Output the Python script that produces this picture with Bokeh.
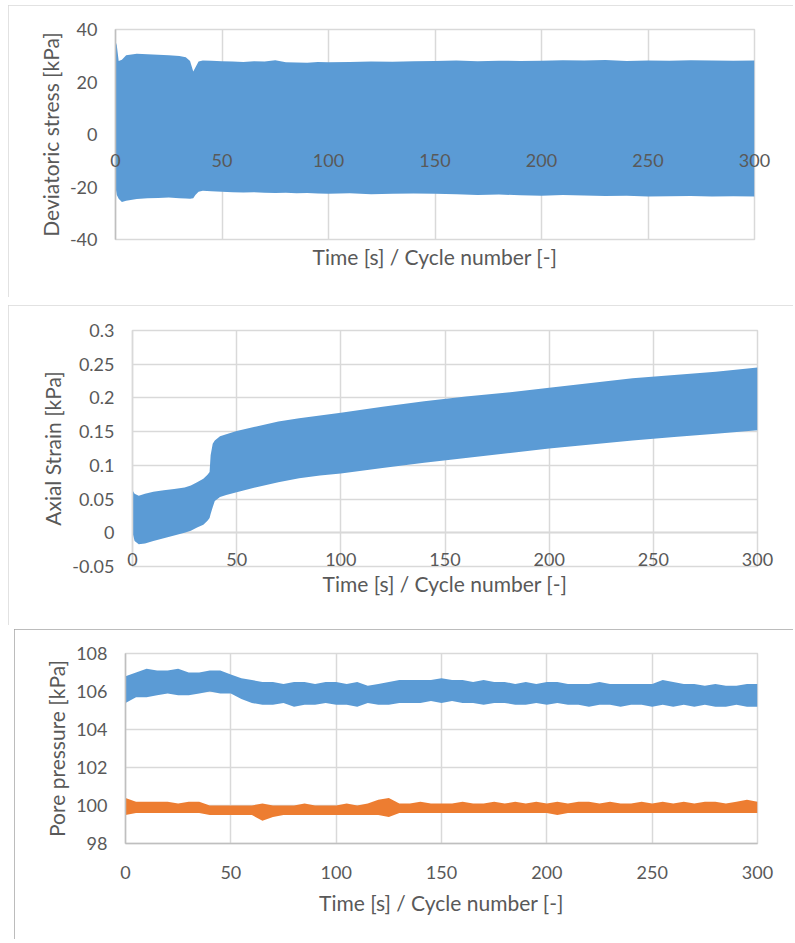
from bokeh.plotting import figure
from bokeh.models import Range1d, FixedTicker, Title
from bokeh.embed import file_html
from bokeh.resources import INLINE

FONT = "Lato"
TXT = "#595959"
GRID = "#d9d9d9"
AXIS = "#bfbfbf"
BLUE = "#5B9BD5"
ORANGE = "#ED7D31"
TICK_SIZE = "18px"
TITLE_SIZE = "21px"

# ---- shared x axis ----
x_ticks = [0, 50, 100, 150, 200, 250, 300]
x_tick_labels = ["0", "50", "100", "150", "200", "250", "300"]
x_title = "Time [s] / Cycle number [-]"

# ---- panel 1: deviatoric stress envelope ----
stress_ticks = [-40, -20, 0, 20, 40]
stress_tick_labels = ["-40", "-20", "0", "20", "40"]
stress_title = "Deviatoric stress [kPa]"
stress_axis_cross = 0
stress_t = [0, 0.6, 1.5, 3, 5, 10, 15, 20, 25, 30, 33, 35, 36.5, 37.5, 39, 41, 45, 50, 55, 60,
            65, 70, 75, 80, 85, 90, 95, 100, 110, 120, 130, 140, 150, 160, 170, 180, 190, 200,
            210, 220, 230, 240, 250, 260, 270, 280, 290, 300]
stress_upper = [35.5, 34, 28, 28.5, 30.2, 30.8, 30.6, 30.4, 30.2, 29.9, 29.4, 28.0, 24.0, 25.5,
                27.8, 28.2, 28.1, 27.9, 27.8, 27.6, 27.9, 27.8, 28.3, 27.5, 27.4, 27.3, 27.6,
                27.5, 27.6, 27.8, 27.7, 27.9, 28.0, 28.2, 27.9, 28.1, 28.0, 28.1, 28.3, 28.2,
                28.4, 28.0, 28.2, 28.1, 28.3, 28.2, 28.1, 28.2]
stress_lower = [-20, -23, -24.5, -25.7, -25.2, -24.6, -24.3, -24.2, -24.0, -24.3, -24.4, -24.5,
                -24.3, -23.0, -21.8, -21.4, -21.6, -21.8, -22.0, -22.1, -22.0, -22.2, -22.3,
                -22.2, -22.4, -22.3, -22.5, -22.6, -22.4, -22.8, -22.6, -22.5, -22.6, -22.8,
                -23.0, -22.9, -23.1, -23.3, -23.0, -23.2, -23.4, -23.3, -23.6, -23.5, -23.4,
                -23.6, -23.5, -23.6]

# ---- panel 2: axial strain envelope ----
strain_ticks = [-0.05, 0, 0.05, 0.1, 0.15, 0.2, 0.25, 0.3]
strain_tick_labels = ["-0.05", "0", "0.05", "0.1", "0.15", "0.2", "0.25", "0.3"]
strain_title = "Axial Strain [kPa]"
strain_axis_cross = 0
strain_t = [0, 1, 3, 6, 10, 15, 20, 25, 28, 31, 34, 36, 37, 37.5, 38.5, 39.5, 42, 45, 50, 60,
            70, 80, 90, 100, 120, 140, 160, 180, 200, 220, 240, 260, 280, 300]
strain_upper = [0.063, 0.058, 0.055, 0.058, 0.061, 0.063, 0.065, 0.067, 0.070, 0.075, 0.080,
                0.086, 0.090, 0.115, 0.132, 0.137, 0.143, 0.146, 0.151, 0.158, 0.165, 0.170,
                0.174, 0.178, 0.187, 0.195, 0.202, 0.208, 0.215, 0.222, 0.229, 0.234, 0.239,
                0.245]
strain_lower = [0.000, -0.012, -0.017, -0.016, -0.012, -0.008, -0.004, 0.000, 0.003, 0.008,
                0.012, 0.018, 0.022, 0.028, 0.038, 0.047, 0.053, 0.056, 0.060, 0.068, 0.075,
                0.081, 0.085, 0.088, 0.096, 0.104, 0.111, 0.118, 0.125, 0.131, 0.137, 0.142,
                0.147, 0.152]

# ---- panel 3: pore pressure envelopes ----
pore_ticks = [98, 100, 102, 104, 106, 108]
pore_tick_labels = ["98", "100", "102", "104", "106", "108"]
pore_title = "Pore pressure [kPa]"
pore_t = [0, 5, 10, 15, 20, 25, 30, 35, 40, 45, 50, 55, 60, 65, 70, 75, 80, 85, 90, 95, 100,
          105, 110, 115, 120, 125, 130, 135, 140, 145, 150, 155, 160, 165, 170, 175, 180, 185,
          190, 195, 200, 205, 210, 215, 220, 225, 230, 235, 240, 245, 250, 255, 260, 265, 270,
          275, 280, 285, 290, 295, 300]
pore_a_upper = [106.8, 107.0, 107.2, 107.1, 107.1, 107.2, 107.0, 107.0, 107.1, 107.1, 106.9,
                106.7, 106.6, 106.5, 106.5, 106.4, 106.5, 106.5, 106.4, 106.5, 106.5, 106.4,
                106.5, 106.3, 106.4, 106.5, 106.6, 106.6, 106.6, 106.6, 106.7, 106.6, 106.6,
                106.5, 106.6, 106.5, 106.5, 106.4, 106.5, 106.4, 106.5, 106.5, 106.4, 106.4,
                106.4, 106.5, 106.4, 106.4, 106.4, 106.4, 106.4, 106.6, 106.5, 106.4, 106.4,
                106.3, 106.4, 106.3, 106.3, 106.4, 106.4]
pore_a_lower = [105.4, 105.7, 105.7, 105.8, 105.9, 105.8, 105.8, 105.9, 106.0, 105.9, 105.9,
                105.6, 105.4, 105.3, 105.3, 105.4, 105.2, 105.3, 105.3, 105.4, 105.3, 105.3,
                105.2, 105.4, 105.3, 105.3, 105.4, 105.4, 105.4, 105.5, 105.4, 105.5, 105.4,
                105.4, 105.3, 105.4, 105.4, 105.3, 105.3, 105.4, 105.3, 105.4, 105.3, 105.3,
                105.2, 105.3, 105.3, 105.2, 105.3, 105.3, 105.2, 105.3, 105.2, 105.3, 105.2,
                105.3, 105.2, 105.2, 105.3, 105.2, 105.2]
pore_b_upper = [100.4, 100.2, 100.2, 100.2, 100.2, 100.1, 100.2, 100.2, 100.0, 100.0, 100.0,
                100.0, 100.0, 100.1, 100.0, 100.0, 100.0, 100.1, 100.0, 100.0, 100.0, 100.1,
                100.0, 100.1, 100.3, 100.4, 100.1, 100.1, 100.2, 100.1, 100.1, 100.1, 100.2,
                100.1, 100.1, 100.2, 100.1, 100.2, 100.1, 100.2, 100.1, 100.2, 100.1, 100.2,
                100.2, 100.1, 100.2, 100.1, 100.1, 100.2, 100.1, 100.2, 100.1, 100.2, 100.1,
                100.2, 100.2, 100.1, 100.2, 100.3, 100.2]
pore_b_lower = [99.5, 99.6, 99.6, 99.6, 99.6, 99.6, 99.6, 99.6, 99.5, 99.5, 99.5, 99.5, 99.5,
                99.2, 99.4, 99.5, 99.5, 99.5, 99.5, 99.5, 99.5, 99.5, 99.5, 99.5, 99.5, 99.4,
                99.6, 99.6, 99.6, 99.6, 99.6, 99.6, 99.6, 99.6, 99.6, 99.6, 99.6, 99.6, 99.6,
                99.6, 99.6, 99.5, 99.6, 99.6, 99.6, 99.6, 99.6, 99.6, 99.6, 99.6, 99.6, 99.6,
                99.6, 99.6, 99.6, 99.6, 99.6, 99.6, 99.6, 99.6, 99.6]


def make_fig(w, h, yr, left, right, top, bottom, css, margin):
    p = figure(width=w, height=h, x_range=Range1d(x_ticks[0], x_ticks[-1]),
               y_range=Range1d(yr[0], yr[-1]), output_backend="svg", toolbar_location=None,
               min_border_left=left, min_border_right=right, min_border_top=top,
               min_border_bottom=bottom, background_fill_color="white",
               border_fill_color="white", outline_line_color=GRID, outline_line_width=1.5,
               styles=css, margin=margin)
    for g in (p.xgrid, p.ygrid):
        g.grid_line_color = GRID
        g.grid_line_width = 1.5
    return p


def style_axis(ax, ticks, labels, title=None):
    ax.ticker = FixedTicker(ticks=ticks)
    ax.major_label_overrides = {t: l for t, l in zip(ticks, labels)}
    ax.major_tick_line_color = None
    ax.minor_tick_line_color = None
    ax.major_tick_out = 0
    ax.major_tick_in = 0
    ax.minor_tick_out = 0
    ax.major_label_text_font = FONT
    ax.major_label_text_font_size = TICK_SIZE
    ax.major_label_text_color = TXT
    ax.axis_line_color = AXIS
    ax.axis_line_width = 1.5
    if title:
        ax.axis_label = title
        ax.axis_label_text_font = FONT
        ax.axis_label_text_font_size = TITLE_SIZE
        ax.axis_label_text_color = TXT
        ax.axis_label_text_font_style = "normal"
        ax.axis_label_standoff = 4


def add_xtitle(p, standoff):
    t = Title(text=x_title, align="center", text_font=FONT, text_font_size=TITLE_SIZE,
              text_color=TXT, text_font_style="normal", standoff=standoff)
    p.add_layout(t, "below")


OVL_H = 70      # overlay height
OVL_FRAME = 10  # overlay frame height (its axis sits at the frame bottom)


def crossing_axis(w, left, right, margin, standoff):
    # transparent overlay, pulled up over the panel by a negative margin, whose bottom
    # axis sits on the panel's horizontal axis crossing (labels may spill past the frame)
    o = figure(width=w, height=OVL_H, x_range=Range1d(x_ticks[0], x_ticks[-1]),
               y_range=Range1d(0, 1), output_backend="svg",
               toolbar_location=None, y_axis_location=None,
               min_border_left=left, min_border_right=right, min_border_top=0,
               min_border_bottom=OVL_H - OVL_FRAME, background_fill_color=None,
               border_fill_color=None, outline_line_color=None,
               margin=margin, styles={"position": "relative", "z-index": "10"})
    o.grid.visible = False
    style_axis(o.xaxis[0], x_ticks, x_tick_labels)
    o.xaxis[0].axis_line_color = None
    o.xaxis[0].major_label_standoff = standoff
    return o


border_light = {"outline": "2px solid #d9d9d9", "outline-offset": "-2px"}
border_dark = {"outline": "1px solid #a6a6a6", "outline-offset": "-1px"}

# Panel 1 (page y 5..297, zero line at y=134)
p1 = make_fig(785, 292, stress_ticks, 107, 39, 24, 58, border_light, (5, 0, 0, 8))
p1.varea(x=stress_t, y1=stress_lower, y2=stress_upper, fill_color=BLUE)
style_axis(p1.yaxis[0], stress_ticks, stress_tick_labels, stress_title)
p1.yaxis[0].major_label_standoff = 18
style_axis(p1.xaxis[0], x_ticks, x_tick_labels)
p1.xaxis[0].fixed_location = stress_axis_cross
p1.xaxis[0].axis_line_color = None
p1.xaxis[0].major_label_text_color = None
add_xtitle(p1, 4)
o1 = crossing_axis(785, 107, 39, (-173, 0, 0, 8), 19)

# Panel 2 (page y 305..625, zero line at y~532)
p2 = make_fig(785, 320, strain_ticks, 124, 36, 25, 59, border_light, (111, 0, 0, 8))
p2.varea(x=strain_t, y1=strain_lower, y2=strain_upper, fill_color=BLUE)
style_axis(p2.yaxis[0], strain_ticks, strain_tick_labels, strain_title)
p2.yaxis[0].major_label_standoff = 18
p2.yaxis[0].axis_line_color = GRID
style_axis(p2.xaxis[0], x_ticks, x_tick_labels)
p2.xaxis[0].fixed_location = strain_axis_cross
p2.xaxis[0].level = "underlay"
p2.xaxis[0].major_label_text_color = None
add_xtitle(p2, 4)
o2 = crossing_axis(785, 124, 36, (-103, 0, 0, 8), 20)

# Panel 3 (page y 629..939)
p3 = make_fig(779, 310, pore_ticks, 111, 36, 24, 96, border_dark, (37, 0, 0, 14))
p3.varea(x=pore_t, y1=pore_a_lower, y2=pore_a_upper, fill_color=BLUE)
p3.varea(x=pore_t, y1=pore_b_lower, y2=pore_b_upper, fill_color=ORANGE)
style_axis(p3.yaxis[0], pore_ticks, pore_tick_labels, pore_title)
p3.yaxis[0].major_label_standoff = 18
style_axis(p3.xaxis[0], x_ticks, x_tick_labels)
p3.xaxis[0].major_label_standoff = 22
add_xtitle(p3, 12)

open("out.html", "w").write(file_html([p1, o1, p2, o2, p3], INLINE))
